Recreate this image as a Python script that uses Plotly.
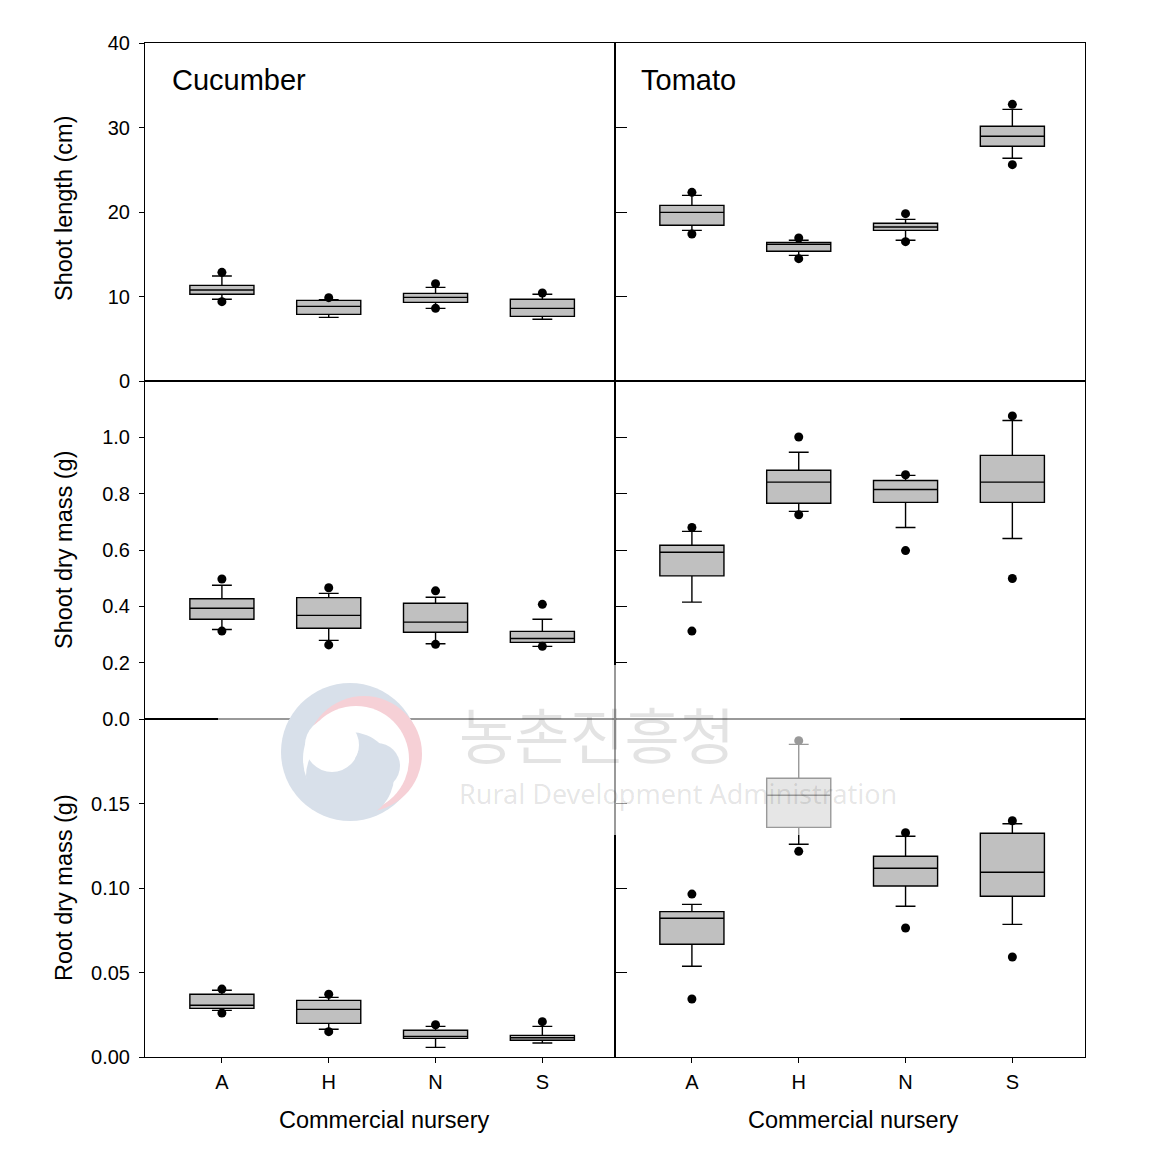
import plotly.graph_objects as go
from plotly.subplots import make_subplots

categories = ["A", "H", "N", "S"]

# ---- Shoot length (cm) ----
cuc_len_q1 = [10.26, 7.89, 9.31, 7.65]
cuc_len_med = [10.77, 8.83, 9.90, 8.60]
cuc_len_q3 = [11.32, 9.54, 10.37, 9.67]
cuc_len_lo = [9.67, 7.53, 8.60, 7.30]
cuc_len_hi = [12.43, 9.62, 11.08, 10.26]
cuc_len_out = {"A": [12.86, 9.39], "H": [9.86], "N": [11.52, 8.60], "S": [10.41]}

tom_len_q1 = [18.43, 15.35, 17.83, 27.78]
tom_len_med = [19.96, 16.18, 18.22, 28.96]
tom_len_q3 = [20.78, 16.41, 18.66, 30.14]
tom_len_lo = [17.83, 14.87, 16.65, 26.36]
tom_len_hi = [21.97, 16.65, 19.13, 32.15]
tom_len_out = {"A": [22.33, 17.40], "H": [16.92, 14.48], "N": [19.80, 16.49], "S": [32.74, 25.60]}

# ---- Shoot dry mass (g) ----
cuc_sdm_q1 = [0.354, 0.322, 0.308, 0.272]
cuc_sdm_med = [0.393, 0.368, 0.344, 0.286]
cuc_sdm_q3 = [0.427, 0.431, 0.411, 0.311]
cuc_sdm_lo = [0.318, 0.279, 0.267, 0.258]
cuc_sdm_hi = [0.475, 0.446, 0.432, 0.354]
cuc_sdm_out = {"A": [0.497, 0.312], "H": [0.466, 0.263], "N": [0.455, 0.265], "S": [0.407, 0.258]}

tom_sdm_q1 = [0.508, 0.766, 0.769, 0.769]
tom_sdm_med = [0.592, 0.841, 0.815, 0.841]
tom_sdm_q3 = [0.617, 0.883, 0.847, 0.936]
tom_sdm_lo = [0.415, 0.737, 0.680, 0.641]
tom_sdm_hi = [0.666, 0.947, 0.865, 1.060]
tom_sdm_out = {"A": [0.680, 0.312], "H": [1.001, 0.725], "N": [0.867, 0.598], "S": [1.076, 0.499]}

# ---- Root dry mass (g) ----
cuc_rdm_q1 = [0.0288, 0.0199, 0.0110, 0.0099]
cuc_rdm_med = [0.0306, 0.0282, 0.0122, 0.0114]
cuc_rdm_q3 = [0.0371, 0.0335, 0.0158, 0.0128]
cuc_rdm_lo = [0.0276, 0.0164, 0.0057, 0.0083]
cuc_rdm_hi = [0.0395, 0.0353, 0.0181, 0.0181]
cuc_rdm_out = {"A": [0.0402, 0.0260], "H": [0.0371, 0.0150], "N": [0.0191], "S": [0.0209]}

tom_rdm_q1 = [0.0667, 0.1359, 0.1012, 0.0951]
tom_rdm_med = [0.0821, 0.1549, 0.1117, 0.1093]
tom_rdm_q3 = [0.0860, 0.1649, 0.1188, 0.1324]
tom_rdm_lo = [0.0537, 0.1259, 0.0892, 0.0785]
tom_rdm_hi = [0.0903, 0.1850, 0.1306, 0.1380]
tom_rdm_out = {"A": [0.0964, 0.0343], "H": [0.1872, 0.1217], "N": [0.1327, 0.0763], "S": [0.1398, 0.0592]}

panel_titles = ["Cucumber", "Tomato"]
y_titles = ["Shoot length (cm)", "Shoot dry mass (g)", "Root dry mass (g)"]
x_title = "Commercial nursery"
y_ranges = [[0, 40], [0, 1.2], [0, 0.2]]
y_ticks = [[0, 10, 20, 30, 40], [0.0, 0.2, 0.4, 0.6, 0.8, 1.0], [0.00, 0.05, 0.10, 0.15]]
y_formats = ["d", ".1f", ".2f"]

panels = [
    [(cuc_len_q1, cuc_len_med, cuc_len_q3, cuc_len_lo, cuc_len_hi, cuc_len_out),
     (tom_len_q1, tom_len_med, tom_len_q3, tom_len_lo, tom_len_hi, tom_len_out)],
    [(cuc_sdm_q1, cuc_sdm_med, cuc_sdm_q3, cuc_sdm_lo, cuc_sdm_hi, cuc_sdm_out),
     (tom_sdm_q1, tom_sdm_med, tom_sdm_q3, tom_sdm_lo, tom_sdm_hi, tom_sdm_out)],
    [(cuc_rdm_q1, cuc_rdm_med, cuc_rdm_q3, cuc_rdm_lo, cuc_rdm_hi, cuc_rdm_out),
     (tom_rdm_q1, tom_rdm_med, tom_rdm_q3, tom_rdm_lo, tom_rdm_hi, tom_rdm_out)],
]

W, H = 1167, 1161
L, R, T, B = 145, 1085, 43, 1057   # target plot-area edges in page pixels
BODY = 8                            # default body margin of the html page
FONT = "Liberation Sans, Arial, sans-serif"

fig = make_subplots(rows=3, cols=2, horizontal_spacing=0, vertical_spacing=0)

for r in range(3):
    for c in range(2):
        q1, med, q3, lo, hi, out = panels[r][c]
        fig.add_trace(go.Box(
            x=categories, q1=q1, median=med, q3=q3, lowerfence=lo, upperfence=hi,
            fillcolor="#c0c0c0", line=dict(color="black", width=1.4),
            whiskerwidth=0.31, width=0.6, boxpoints=False, showlegend=False,
            hoverinfo="skip"), row=r + 1, col=c + 1)
        xs, ys = [], []
        for cat in categories:
            for v in out.get(cat, []):
                xs.append(cat)
                ys.append(v)
        fig.add_trace(go.Scatter(
            x=xs, y=ys, mode="markers",
            marker=dict(color="black", size=9), showlegend=False, hoverinfo="skip"),
            row=r + 1, col=c + 1)

        fig.update_xaxes(
            type="category", categoryorder="array", categoryarray=categories,
            range=[-0.72, 3.68], showline=True, mirror=True, linecolor="black", linewidth=1,
            showgrid=False, zeroline=False,
            ticks="outside" if r == 2 else "", ticklen=5, tickcolor="black",
            showticklabels=(r == 2), ticklabelstandoff=2,
            tickfont=dict(family=FONT, size=20, color="black"),
            row=r + 1, col=c + 1)
        fig.update_yaxes(
            range=y_ranges[r], tickvals=y_ticks[r], tickformat=y_formats[r],
            showline=True, mirror=True, linecolor="black", linewidth=1,
            showgrid=False, zeroline=False,
            ticks="outside" if c == 0 else "inside",
            ticklen=5 if c == 0 else 12, tickcolor="black",
            showticklabels=(c == 0), ticklabelstandoff=5,
            tickfont=dict(family=FONT, size=20, color="black"),
            row=r + 1, col=c + 1)

annotations = []


def px(x):
    return (x - L) / (R - L)


def py(y):
    return (B - y) / (B - T)


# panel titles
annotations.append(dict(text=panel_titles[0], x=px(170), y=py(80), xref="paper", yref="paper",
                        xanchor="left", yanchor="middle", showarrow=False,
                        font=dict(family=FONT, size=29, color="black")))
annotations.append(dict(text=panel_titles[1], x=px(639), y=py(80), xref="paper", yref="paper",
                        xanchor="left", yanchor="middle", showarrow=False,
                        font=dict(family=FONT, size=29, color="black")))
# y titles
for r, cy in enumerate([209, 550, 888]):
    annotations.append(dict(text=y_titles[r], x=px(64), y=py(cy), xref="paper", yref="paper",
                            xanchor="center", yanchor="middle", textangle=-90, showarrow=False,
                            font=dict(family=FONT, size=23.5, color="black")))
# x titles
for cx in [384, 853]:
    annotations.append(dict(text=x_title, x=px(cx), y=py(1120), xref="paper", yref="paper",
                            xanchor="center", yanchor="middle", showarrow=False,
                            font=dict(family=FONT, size=23.5, color="black")))

# watermark
BLUE = "rgb(216,224,234)"
PINK = "rgb(246,208,214)"
WHITE = "rgb(255,255,255)"


def disk(cx, cy, rad, color):
    return dict(type="circle", xref="paper", yref="paper",
                x0=px(cx - rad), x1=px(cx + rad), y0=py(cy + rad), y1=py(cy - rad),
                fillcolor=color, line=dict(width=0), layer="above")


shapes = [
    dict(type="rect", xref="paper", yref="paper",
         x0=px(218), x1=px(900), y0=py(665), y1=py(835),
         fillcolor="rgba(255,255,255,0.6)", line=dict(width=0), layer="above"),
    disk(350, 752, 69, BLUE),
    disk(364, 754, 58, PINK),
    disk(356, 759, 53, WHITE),
    disk(350, 776, 44, BLUE),
    disk(332, 745, 27, WHITE),
    disk(377, 766, 23, BLUE),
]
annotations.append(dict(text="농촌진흥청", x=px(597), y=py(733), xref="paper", yref="paper",
                        xanchor="center", yanchor="middle", showarrow=False,
                        font=dict(family="Noto Sans CJK KR", size=60, color="rgba(0,0,0,0.11)")))
annotations.append(dict(text="Rural Development Administration", x=px(678), y=py(793),
                        xref="paper", yref="paper", xanchor="center", yanchor="middle",
                        showarrow=False,
                        font=dict(family="Noto Sans, sans-serif", size=27, color="rgba(0,0,0,0.11)")))

fig.update_layout(
    width=W, height=H,
    margin=dict(l=L - BODY, r=W - R + BODY, t=T - BODY, b=H - B + BODY),
    plot_bgcolor="white", paper_bgcolor="white",
    annotations=annotations, shapes=shapes,
    font=dict(family=FONT, color="black"),
)

fig.write_html("out.html")
